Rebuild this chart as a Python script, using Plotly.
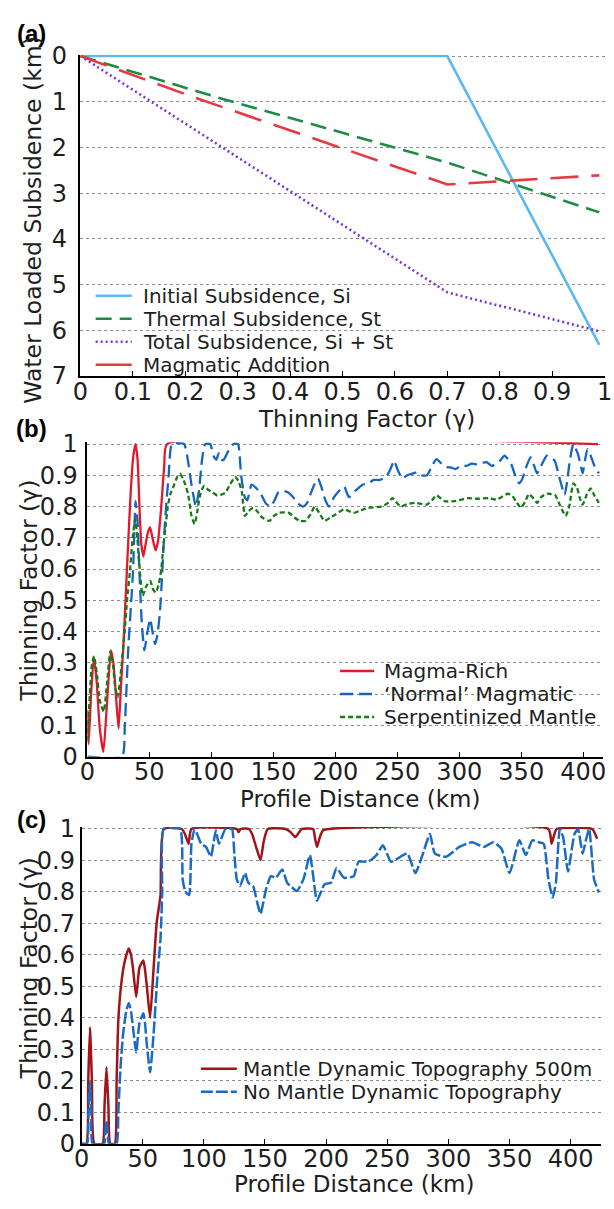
import plotly.graph_objects as go

W, H = 614, 1209
def fx(p): return p / W
def fy(p): return 1 - p / H

# ---------------- Panel (a) data ----------------
a_thin_si = [0.0, 0.70, 0.99]
a_si = [0.0, 0.0, 6.32]
a_thin_st = [0.0, 0.26, 0.50, 0.70, 0.99]
a_st = [0.0, 0.90, 1.68, 2.33, 3.42]
a_thin_tot = [0.0, 0.546, 0.70, 0.99]
a_tot = [0.0, 4.03, 5.17, 6.02]
a_thin_mag = [0.0, 0.211, 0.335, 0.70, 0.83, 0.99]
a_mag = [0.0, 0.88, 1.37, 2.81, 2.72, 2.61]
a_names = ["Initial Subsidence, Si", "Thermal Subsidence, St",
           "Total Subsidence, Si + St", "Magmatic Addition"]
a_xticks = [0, 0.1, 0.2, 0.3, 0.4, 0.5, 0.6, 0.7, 0.8, 0.9, 1]
a_xticktext = ["0", "0.1", "0.2", "0.3", "0.4", "0.5", "0.6", "0.7", "0.8", "0.9", "1"]
a_yticks = [0, 1, 2, 3, 4, 5, 6, 7]

# ---------------- Panel (b) data ----------------
b_red_km = [0, 1, 3, 5.2, 7.5, 10, 12.9, 15.5, 19, 21, 23.5, 25.2, 27, 29, 31, 33, 35, 37, 38.9,
            40.5, 42, 43.5, 45.2, 47, 49, 50.6, 52.5, 55, 57, 59.6, 62, 64.3, 412]
b_red = [0.15, 0.04, 0.2, 0.32, 0.24, 0.09, 0.015, 0.15, 0.34, 0.3, 0.17, 0.09, 0.22, 0.35, 0.52,
         0.69, 0.85, 0.96, 1.0, 0.95, 0.8, 0.68, 0.64, 0.68, 0.72, 0.733, 0.7, 0.66, 0.69, 0.8,
         0.93, 1.0, 1.0]

b_blue_km = [0, 28, 30.2, 32.9, 36.8, 38.9, 40.5, 42, 44, 46, 48.5, 50.7, 52.5, 54.6, 56.5, 58.5,
             60, 61.7, 63.5, 65.6, 68.2, 78, 81, 84, 87.5, 90, 92.5, 95, 99, 102, 104, 106, 108,
             110, 114, 118, 121.5, 124, 127, 129, 132.4, 136, 140, 144, 148, 151, 154, 158.5, 162,
             166, 170, 174, 177, 180, 183, 186, 189, 192, 195, 199, 203, 207, 211, 216, 222, 227,
             231, 236, 241, 244.5, 247.5, 250, 254, 258, 262, 266, 270, 274, 278, 281.6, 285, 289,
             293, 297, 302, 306, 310, 315, 319, 322, 326, 329, 333, 336.5, 341.8, 345, 348.3, 351,
             353.5, 357.5, 360, 362.7, 366, 370.6, 374, 377, 381, 385, 387, 389, 392, 395.6, 397.5,
             399.5, 401.5, 403.4, 406, 409, 412.6]
b_blue = [0, 0, 0.1, 0.34, 0.59, 0.817, 0.75, 0.59, 0.42, 0.34, 0.40, 0.44, 0.40, 0.36, 0.39, 0.46,
          0.56, 0.69, 0.8, 0.9, 1.0, 1.0, 0.95, 0.87, 0.8, 0.85, 0.95, 1.0, 1.0, 0.96, 0.95, 0.97,
          0.95, 0.95, 0.98, 1.0, 1.0, 0.9, 0.83, 0.82, 0.87, 0.86, 0.84, 0.81, 0.80, 0.82, 0.845,
          0.85, 0.845, 0.83, 0.81, 0.80, 0.81, 0.84, 0.87, 0.89, 0.86, 0.82, 0.80, 0.83, 0.85,
          0.865, 0.83, 0.85, 0.87, 0.875, 0.885, 0.885, 0.895, 0.92, 0.947, 0.92, 0.89, 0.9,
          0.905, 0.91, 0.9, 0.9, 0.93, 0.952, 0.94, 0.927, 0.925, 0.92, 0.932, 0.93, 0.937, 0.935,
          0.94, 0.942, 0.93, 0.935, 0.947, 0.963, 0.937, 0.9, 0.874, 0.89, 0.921, 0.958, 0.935,
          0.906, 0.93, 0.963, 0.955, 0.947, 0.889, 0.837, 0.88, 0.942, 1.0, 0.969, 0.94, 0.906,
          0.95, 0.984, 0.963, 0.93, 0.906]

b_green_km = [0, 2, 3.5, 5.4, 7.5, 10, 13.2, 16, 18.5, 20.5, 22.5, 24.5, 27, 30.2, 32, 34.2, 36.5,
              38.6, 40.3, 42, 44.6, 47.5, 50.7, 53, 55.1, 57.5, 59.6, 61, 63, 64.9, 66.9, 70, 72.5,
              74.8, 77, 79, 81.3, 84, 86.5, 88.5, 90.5, 92.5, 94.4, 97, 101, 104.9, 108, 111.4, 115,
              119.3, 122, 124.5, 127.1, 130, 133.7, 137, 141, 146.8, 150.5, 154.6, 162.5, 167,
              171.6, 176, 180, 183.4, 187, 191.2, 196, 200.4, 207, 214.8, 220, 226.6, 237, 242,
              246.2, 249, 252.8, 258, 264.6, 273.9, 278, 281.6, 288.2, 296, 306.5, 315, 323.6, 330,
              334, 339.2, 343, 346, 349.7, 353, 356.2, 359, 362.8, 366, 370.6, 374, 377.1, 381,
              383.5, 385.8, 387.5, 389, 392, 395, 397, 399.5, 403, 406, 409, 412.6]
b_green = [0.05, 0.2, 0.29, 0.321, 0.27, 0.18, 0.144, 0.24, 0.337, 0.3, 0.22, 0.191, 0.27, 0.41,
           0.5, 0.587, 0.7, 0.759, 0.7, 0.608, 0.515, 0.545, 0.562, 0.535, 0.525, 0.55, 0.598,
           0.66, 0.734, 0.8, 0.839, 0.87, 0.895, 0.905, 0.89, 0.87, 0.839, 0.77, 0.744, 0.78,
           0.83, 0.855, 0.866, 0.855, 0.845, 0.835, 0.838, 0.845, 0.87, 0.895, 0.88, 0.849, 0.77,
           0.785, 0.796, 0.785, 0.765, 0.754, 0.77, 0.78, 0.78, 0.765, 0.754, 0.754, 0.775, 0.8,
           0.78, 0.754, 0.765, 0.775, 0.791, 0.78, 0.787, 0.796, 0.8, 0.81, 0.827, 0.815, 0.8,
           0.808, 0.812, 0.806, 0.82, 0.836, 0.817, 0.817, 0.827, 0.825, 0.827, 0.822, 0.83,
           0.841, 0.833, 0.815, 0.796, 0.815, 0.84, 0.83, 0.812, 0.83, 0.841, 0.84, 0.838, 0.806,
           0.785, 0.77, 0.785, 0.806, 0.874, 0.86, 0.83, 0.806, 0.84, 0.858, 0.835, 0.812]
b_names = ["Magma-Rich", "\u2018Normal\u2019 Magmatic", "Serpentinized Mantle"]

# ---------------- Panel (c) data ----------------
c_red_km = [0, 4, 5.5, 6.9, 8.5, 10.5, 17.2, 18.8, 20.4, 22, 23.5, 27.2, 28.7, 30.1, 32.8, 35.4,
            38.6, 40.5, 42, 44.7, 47.4, 50.6, 52, 53.5, 56.1, 58.8, 61.5, 64.6, 67.3, 82, 84.5,
            87.5, 89.9, 127, 128.4, 130, 137, 139.5, 143, 146.4, 149, 152.3, 166.9, 171, 174.8,
            178, 180.1, 189.4, 191, 192.6, 195, 197.4, 202.6, 381.9, 384.5, 386.5, 388.6, 417.7,
            421.7]
c_red = [0, 0, 0.2, 0.37, 0.2, 0, 0, 0.12, 0.243, 0.12, 0, 0, 0.2, 0.393, 0.518, 0.58, 0.62, 0.6,
         0.56, 0.466, 0.56, 0.582, 0.55, 0.497, 0.40, 0.549, 0.704, 0.788, 1.0, 1.0, 0.985, 0.953,
         1.0, 1.0, 0.99, 1.0, 1.0, 0.984, 0.94, 0.901, 0.96, 1.0, 1.0, 0.99, 0.974, 0.99, 1.0, 1.0,
         0.97, 0.943, 0.975, 0.995, 1.0, 1.0, 0.953, 0.98, 1.0, 1.0, 0.969]

c_blue_km = [0, 4.5, 5.7, 6.9, 8, 9.1, 18.5, 19.5, 20.4, 21.4, 22.4, 28.6, 30.1, 32, 34.1, 36.5,
             38.6, 40.5, 42, 44.7, 47.4, 50.6, 52, 53.5, 56.1, 58.8, 62, 64.6, 66, 67.3, 80.6, 82.7,
             85, 88, 89.9, 92.5, 95, 97.8, 101.8, 105.8, 109.8, 112.4, 117.7, 123, 125, 127,
             129.7, 133.7, 136.4, 140.3, 143.5, 146.4, 150.9, 154.9, 158.9, 164.2, 168.2, 172,
             176.2, 181.5, 186.8, 189.5, 192.6, 198.7, 204, 208.6, 214.7, 222.6, 226.6, 234.5,
             241.2, 246.5, 253.1, 258.5, 266.4, 273.1, 278.4, 285, 289, 298.3, 309, 319.5, 328.9,
             336.8, 343.4, 350.1, 358.1, 363.4, 368.7, 374, 378, 381.9, 385.4, 388, 391.2, 393.9,
             397.9, 403.2, 406, 409.9, 412.5, 415.2, 419.2, 423.2]
c_blue = [0, 0, 0.1, 0.197, 0.1, 0, 0, 0.04, 0.072, 0.04, 0, 0, 0.1, 0.25, 0.352, 0.42, 0.447,
          0.42, 0.373, 0.29, 0.383, 0.414, 0.38, 0.311, 0.227, 0.342, 0.528, 0.653, 0.8, 1.0, 1.0,
          0.84, 0.8, 0.79, 0.953, 1.0, 0.98, 0.953, 0.943, 0.912, 0.995, 0.953, 1.0, 1.0, 0.92,
          0.84, 0.819, 0.86, 0.829, 0.819, 0.77, 0.73, 0.808, 0.85, 0.845, 0.871, 0.829, 0.815,
          0.803, 0.84, 0.917, 0.85, 0.772, 0.824, 0.829, 0.876, 0.845, 0.85, 0.896, 0.896, 0.917,
          0.948, 0.896, 0.906, 0.922, 0.86, 0.912, 0.984, 0.922, 0.912, 0.943, 0.958, 0.943,
          0.958, 0.938, 0.86, 0.964, 0.917, 0.964, 0.958, 0.953, 0.84, 0.782, 0.829, 1.0, 0.974,
          0.865, 0.984, 1.0, 0.922, 0.964, 1.0, 0.84, 0.798]
c_names = ["Mantle Dynamic Topography 500m", "No Mantle Dynamic Topography"]

bc_xticks = [0, 50, 100, 150, 200, 250, 300, 350, 400]
bc_yticks = [0, 0.1, 0.2, 0.3, 0.4, 0.5, 0.6, 0.7, 0.8, 0.9, 1]
bc_yticktext = ["0", "0.1", "0.2", "0.3", "0.4", "0.5", "0.6", "0.7", "0.8", "0.9", "1"]

# ---------------- styles ----------------
FONT = "DejaVu Sans"
TXT = "#1e1e1e"
a_colors = ["#5BB8F2", "#1E8C45", "#7B35D6", "#E53A40"]
a_dash = ["solid", "16px,8px", "2px,3px", "28px,13px"]
b_colors = ["#E3182D", "#1565C0", "#167A16"]
b_dash = ["solid", "13px,6px", "5px,3px"]
c_colors = ["#A0141A", "#1A6BC4"]
c_dash = ["solid", "12px,3px"]

fig = go.Figure()
for xs, ys, c, d, n in zip([a_thin_si, a_thin_st, a_thin_tot, a_thin_mag],
                           [a_si, a_st, a_tot, a_mag], a_colors, a_dash, a_names):
    fig.add_trace(go.Scatter(x=xs, y=ys, mode="lines", name=n, showlegend=False,
                             line=dict(color=c, width=2.6, dash=d), xaxis="x", yaxis="y"))
for xs, ys, c, d, n in zip([b_red_km, b_blue_km, b_green_km], [b_red, b_blue, b_green],
                           b_colors, b_dash, b_names):
    fig.add_trace(go.Scatter(x=xs, y=ys, mode="lines", name=n, showlegend=False,
                             line=dict(color=c, width=2.3, dash=d, shape="spline", smoothing=0.5),
                             xaxis="x2", yaxis="y2"))
for xs, ys, c, d, n in zip([c_red_km, c_blue_km], [c_red, c_blue], c_colors, c_dash, c_names):
    fig.add_trace(go.Scatter(x=xs, y=ys, mode="lines", name=n, showlegend=False,
                             line=dict(color=c, width=2.5, dash=d, shape="spline", smoothing=0.5),
                             xaxis="x3", yaxis="y3"))

tickfont = dict(family=FONT, size=24, color=TXT)
common_x = dict(showline=True, linecolor="black", linewidth=1.5, showgrid=False, zeroline=False,
                ticks="inside", ticklen=5, tickcolor="black", tickfont=tickfont,
                ticklabelstandoff=-7, ticklabeloverflow="allow")
common_y = dict(showline=True, linecolor="black", linewidth=1.5, showgrid=True, gridcolor="#8c8c8c",
                griddash="dot", gridwidth=1, zeroline=False, ticks="", tickfont=tickfont)

fig.update_layout(
    width=W, height=H, margin=dict(l=0, r=0, t=0, b=0),
    paper_bgcolor="white", plot_bgcolor="white",
    xaxis=dict(domain=[fx(74.4), fx(612.5)], anchor="y", range=[0, 1],
               tickvals=a_xticks, ticktext=a_xticktext, **common_x),
    yaxis=dict(domain=[fy(372), fy(43.6)], anchor="x", range=[7, -0.03], tickvals=a_yticks,
               ticklabelstandoff=7, **common_y),
    xaxis2=dict(domain=[fx(81.5), fx(611)], anchor="y2", range=[0, 416], tickvals=bc_xticks,
                **common_x),
    yaxis2=dict(domain=[fy(761), fy(439.6)], anchor="x2", range=[0, 1.006], tickvals=bc_yticks,
                ticktext=bc_yticktext, ticklabelstandoff=3, **common_y),
    xaxis3=dict(domain=[fx(75.5), fx(609)], anchor="y3", range=[0, 425], tickvals=bc_xticks,
                **common_x),
    yaxis3=dict(domain=[fy(1156.5), fy(833)], anchor="x3", range=[0, 1.006], tickvals=bc_yticks,
                ticktext=bc_yticktext, ticklabelstandoff=0, **common_y),
)

ann = []
def text(x, y, s, size=23.5, bold=False, angle=0, xanchor="center", family=FONT):
    ann.append(dict(xref="paper", yref="paper", x=fx(x), y=fy(y), text=("<b>%s</b>" % s) if bold else s,
                    showarrow=False, xanchor=xanchor, yanchor="middle", textangle=angle,
                    borderpad=0,
                    font=dict(family=family, size=size, color="black" if bold else TXT)))

# panel labels
text(24, 22, "(a)", 24, bold=True, family="Liberation Sans")
text(24, 426, "(b)", 24, bold=True, family="Liberation Sans")
text(24, 825, "(c)", 24, bold=True, family="Liberation Sans")
# axis titles
text(368, 416, "Thinning Factor (\u03b3)", 23)
text(361, 804, "Profile Distance (km)", 23)
text(355, 1198, "Profile Distance (km)", 23)
text(26, 212, "Water Loaded Subsidence (km)", angle=-90)
text(22, 591, "Thinning Factor (\u03b3)", angle=-90)
text(22, 977, "Thinning Factor (\u03b3)", angle=-90)

shapes = []
def legend(x0, x1, xt, rows, names, colors, dashes, size):
    for y, n, c, d in zip(rows, names, colors, dashes):
        shapes.append(dict(type="line", xref="paper", yref="paper", x0=fx(x0), x1=fx(x1),
                           y0=fy(y), y1=fy(y), line=dict(color=c, width=2.6, dash=d)))
        text(xt, y, n, size, xanchor="left")

legend(90, 127, 138, [290, 313.5, 337, 360.5], a_names, a_colors,
       ["solid", "16px,8px", "2px,3px", "solid"], 20)
legend(341, 376, 385, [673.5, 697, 720.5], b_names, b_colors, b_dash, 20)
legend(198, 235, 240, [1080, 1103.5], c_names, c_colors, c_dash, 20)

fig.update_layout(annotations=ann, shapes=shapes)
fig.write_html("out.html")
